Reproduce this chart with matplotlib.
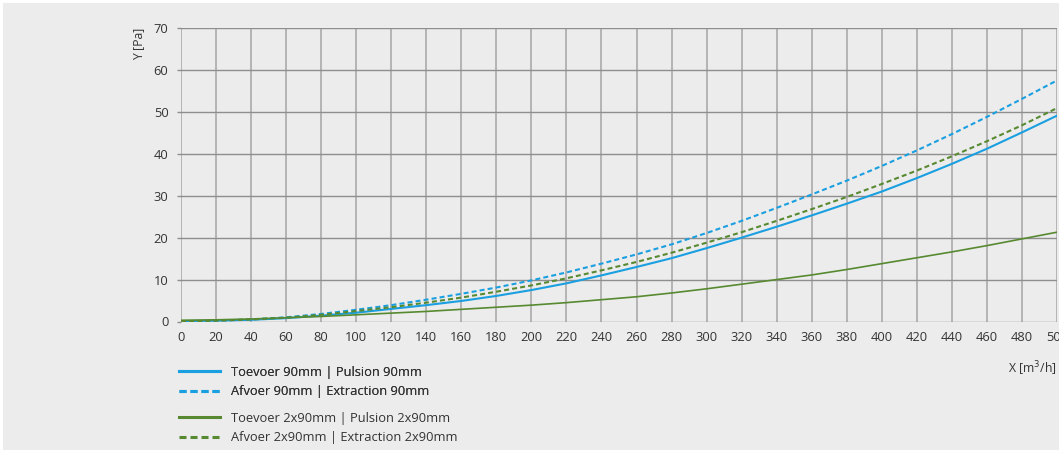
import matplotlib.pyplot as plt
from matplotlib.lines import Line2D
from matplotlib.patches import Rectangle

plt.rcParams['font.family'] = ['Open Sans', 'DejaVu Sans']

# debiet (m3/h)
debiet = [0, 20, 40, 60, 80, 100, 120, 140, 160, 180, 200, 220, 240,
          260, 280, 300, 320, 340, 360, 380, 400, 420, 440, 460, 480, 500]

# drukval (Pa)
toevoer_90 = [0.1, 0.2, 0.4, 0.8, 1.4, 2.1, 3.0, 3.9, 4.9, 6.1, 7.5, 9.1, 11.0,
              13.0, 15.1, 17.5, 20.0, 22.6, 25.3, 28.1, 31.0, 34.2, 37.6, 41.2, 45.1, 49.1]
afvoer_90 = [0.0, 0.2, 0.5, 1.0, 1.8, 2.8, 3.9, 5.2, 6.6, 8.1, 9.8, 11.7, 13.8,
             16.0, 18.4, 21.1, 24.0, 27.1, 30.3, 33.6, 37.1, 40.8, 44.7, 48.8, 53.1, 57.5]
toevoer_2x90 = [0.3, 0.4, 0.6, 0.9, 1.2, 1.6, 2.0, 2.4, 2.9, 3.4, 3.9, 4.5, 5.2,
                5.9, 6.8, 7.8, 8.9, 10.0, 11.1, 12.4, 13.8, 15.2, 16.6, 18.1, 19.7, 21.3]
afvoer_2x90 = [0.0, 0.2, 0.5, 0.9, 1.6, 2.5, 3.4, 4.5, 5.7, 7.1, 8.6, 10.3, 12.2,
               14.2, 16.4, 18.8, 21.3, 24.0, 26.8, 29.7, 32.8, 36.0, 39.4, 43.0, 46.8, 50.9]

labels = ['Toevoer 90mm | Pulsion 90mm',
          'Afvoer 90mm | Extraction 90mm',
          'Toevoer 2x90mm | Pulsion 2x90mm',
          'Afvoer 2x90mm | Extraction 2x90mm']

blauw = '#1a9fe0'
groen = '#578a30'
bg = '#ececec'
txt = '#333333'
fs = 9.3

fig = plt.figure(figsize=(10.59, 4.5), dpi=100, facecolor='white')
fig.patches.append(Rectangle((3 / 1059, 0), 1, 1 - 3 / 450, transform=fig.transFigure,
                             facecolor=bg, edgecolor='none', zorder=-10))
ax = fig.add_axes([181 / 1059, 1 - 321.5 / 450, 876 / 1059, 293.5 / 450])
ax.set_facecolor(bg)

ax.plot(debiet, toevoer_90, color=blauw, lw=1.5)
l2, = ax.plot(debiet, afvoer_90, color=blauw, lw=1.5)
l2.set_dashes((2.4, 1.5))
ax.plot(debiet, toevoer_2x90, color=groen, lw=1.2)
l4, = ax.plot(debiet, afvoer_2x90, color=groen, lw=1.5)
l4.set_dashes((2.4, 1.5))

ax.set_xlim(0, 500)
ax.set_ylim(0, 70)
ax.set_xticks(range(0, 501, 20))
ax.set_yticks(range(0, 71, 10))
for s in ax.spines.values():
    s.set_visible(False)
ax.grid(axis='x', color='#ababab', lw=1.2)
ax.grid(axis='y', color='#8e8e8e', lw=1.0)
ax.set_axisbelow(True)
ax.tick_params(axis='x', length=0, pad=7, labelsize=fs, labelcolor=txt)
ax.tick_params(axis='y', length=3, width=1, color='#8e8e8e', pad=6, labelsize=fs, labelcolor=txt)

ax.set_ylabel('Y [Pa]', loc='top', fontsize=fs - 0.5, color=txt, labelpad=6)
ax.set_xlabel('X [m$^3$/h]', loc='right', fontsize=fs - 0.5, color=txt, labelpad=11)

# legenda
h1 = Line2D([], [], color=blauw, lw=2.2)
h2 = Line2D([], [], color=blauw, lw=2.2, dashes=(2.3, 1.3))
h3 = Line2D([], [], color=groen, lw=2.2)
h4 = Line2D([], [], color=groen, lw=2.2, dashes=(2.3, 1.3))
kw = dict(loc='upper left', frameon=False, fontsize=fs, handlelength=3.2, handletextpad=0.8,
          labelspacing=0.5, borderpad=0, borderaxespad=0, labelcolor=txt)
leg1 = fig.legend([h1, h2], labels[:2], bbox_to_anchor=(179 / 1059, 1 - 366 / 450), **kw)
leg2 = fig.legend([h3, h4], labels[2:], bbox_to_anchor=(179 / 1059, 1 - 412 / 450), **kw)
fig.add_artist(leg1)

fig.savefig('out.png', dpi=100, facecolor=fig.get_facecolor())
